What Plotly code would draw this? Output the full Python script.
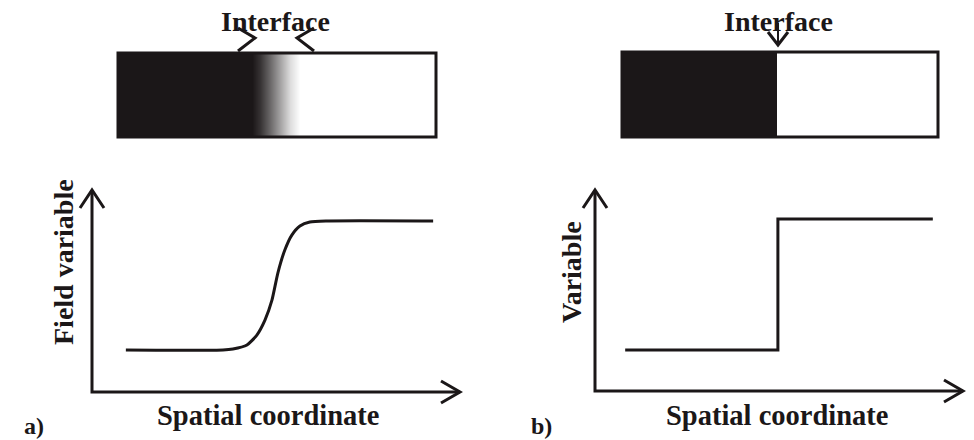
import plotly.graph_objects as go

W, H = 974, 440
INK = "#1b1718"
FONT = "Liberation Serif, Times New Roman, serif"

# ---- data ----
# panel a: diffuse interface profile (spatial coordinate vs field variable)
curve_a_x = [0.92, 3.56, 3.83, 4.21, 4.48, 4.70, 4.89, 5.05, 5.24, 5.43, 5.65, 5.92, 6.39, 9.27]
curve_a_y = [2.08, 2.08, 2.13, 2.33, 2.82, 3.56, 4.55, 5.89, 7.03, 7.77, 8.22, 8.42, 8.47, 8.47]
# panel b: sharp interface profile
step_b_x = [0.82, 4.97, 9.18]
step_b_y = [2.04, 8.56, 8.56]
# bars: field value along the sample (0 = black phase, 1 = white phase)
bar_a_x = [0.0, 4.21, 4.47, 4.78, 5.09, 5.41, 5.72, 10.0]
bar_a_z = [0.0, 0.0, 0.12, 0.35, 0.60, 0.85, 1.0, 1.0]
bar_b_edges = [0.0, 4.91, 10.0]
bar_b_z = [0.0, 1.0]

labels = {
    "iface": "Interface",
    "ya": "Field variable",
    "yb": "Variable",
    "x": "Spatial coordinate",
    "a": "a)",
    "b": "b)",
}


def px(x):
    return x / W


def py(y):
    return 1 - y / H


fig = go.Figure()
gray = [[0, INK], [1, "#ffffff"]]

fig.add_trace(go.Scatter(x=curve_a_x, y=curve_a_y, mode="lines",
                         line=dict(color=INK, width=3, shape="spline", smoothing=0.6),
                         xaxis="x", yaxis="y", hoverinfo="skip", showlegend=False))
fig.add_trace(go.Scatter(x=step_b_x, y=step_b_y, mode="lines",
                         line=dict(color=INK, width=3, shape="hv"),
                         xaxis="x2", yaxis="y2", hoverinfo="skip", showlegend=False))
fig.add_trace(go.Heatmap(x=bar_a_x, y=[0, 1], z=[bar_a_z, bar_a_z], zsmooth="best",
                         colorscale=gray, zmin=0, zmax=1, showscale=False,
                         xaxis="x3", yaxis="y3", hoverinfo="skip"))
fig.add_trace(go.Heatmap(x=bar_b_edges, y=[0, 1], z=[bar_b_z], colorscale=gray,
                         zmin=0, zmax=1, showscale=False,
                         xaxis="x4", yaxis="y4", hoverinfo="skip"))

hidden = dict(visible=False, showgrid=False, zeroline=False, fixedrange=True)
fig.update_layout(
    width=W, height=H, autosize=False,
    margin=dict(l=0, r=0, t=0, b=0),
    paper_bgcolor="white", plot_bgcolor="rgba(0,0,0,0)",
    xaxis=dict(domain=[px(92), px(460)], range=[0, 10], **hidden),
    yaxis=dict(domain=[py(392), py(190)], range=[0, 10], **hidden),
    xaxis2=dict(domain=[px(595), px(963)], range=[0, 10], **hidden),
    yaxis2=dict(domain=[py(391), py(190)], range=[0, 10], **hidden),
    xaxis3=dict(domain=[px(118), px(436)], range=[0, 10], **hidden),
    yaxis3=dict(domain=[py(137), py(53)], range=[0, 1], **hidden),
    xaxis4=dict(domain=[px(622), px(938)], range=[0, 10], **hidden),
    yaxis4=dict(domain=[py(137), py(52)], range=[0, 1], **hidden),
)


def path(points):
    s = "M " + " L ".join(f"{px(x)},{py(y)}" for x, y in points)
    return s


shapes = []
line = dict(color=INK, width=3)
# axes with open chevron heads
for (ox, oy, tx, ty) in [(92, 392, 460, 392), (595, 391, 963, 391)]:
    shapes.append(dict(type="path", path=path([(ox, 190), (ox, oy), (tx, ty)]),
                       xref="paper", yref="paper", line=line))
    shapes.append(dict(type="path", path=path([(ox - 12, 208), (ox, 190), (ox + 12, 208)]),
                       xref="paper", yref="paper", line=line))
    shapes.append(dict(type="path", path=path([(tx - 19, ty - 11), (tx, ty), (tx - 19, ty + 11)]),
                       xref="paper", yref="paper", line=line))
# bar borders
for (x0, y0, x1, y1) in [(118, 53, 436, 137), (622, 52, 938, 137)]:
    shapes.append(dict(type="rect", x0=px(x0), x1=px(x1), y0=py(y1), y1=py(y0),
                       xref="paper", yref="paper", line=line))
# interface markers
shapes.append(dict(type="path", path=path([(238, 28), (255, 38), (238, 51)]),
                   xref="paper", yref="paper", line=line))
shapes.append(dict(type="path", path=path([(314, 28), (297, 38), (314, 51)]),
                   xref="paper", yref="paper", line=line))
shapes.append(dict(type="path", path=path([(778, 23), (778, 45)]),
                   xref="paper", yref="paper", line=dict(color=INK, width=2)))
shapes.append(dict(type="path", path=path([(768, 32), (778, 45), (788, 32)]),
                   xref="paper", yref="paper", line=line))
fig.update_layout(shapes=shapes)


def txt(x, y, s, size=28, angle=0):
    return dict(x=px(x), y=py(y), xref="paper", yref="paper", text=f"<b>{s}</b>",
                showarrow=False, textangle=angle, xanchor="center", yanchor="middle",
                font=dict(family=FONT, size=size, color=INK))


fig.update_layout(annotations=[
    txt(275, 21, labels["iface"]),
    txt(778, 21, labels["iface"]),
    txt(63, 262, labels["ya"], angle=-90),
    txt(571, 272, labels["yb"], angle=-90),
    txt(268, 415, labels["x"], size=28.5),
    txt(777, 415, labels["x"], size=28.5),
    txt(34, 426, labels["a"], size=24),
    txt(541, 426, labels["b"], size=24),
])

fig.write_html("out.html", config={"displayModeBar": False},
               post_script="document.body.style.margin='0';document.body.style.overflow='hidden';")
